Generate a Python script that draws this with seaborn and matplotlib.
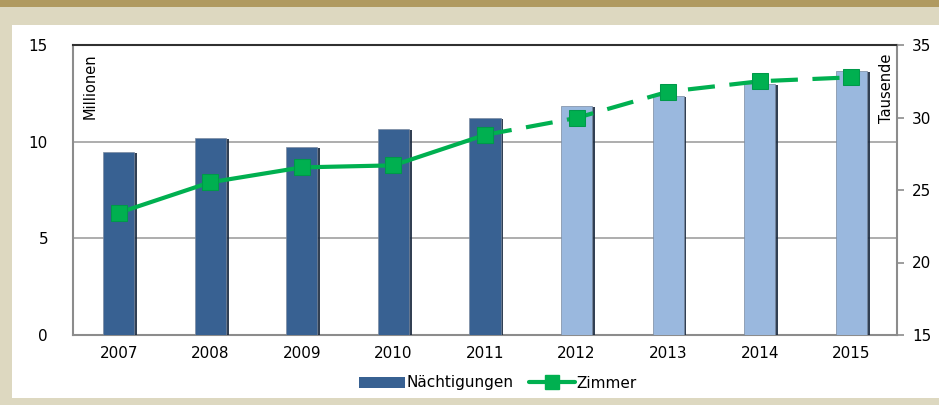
import numpy as np
import matplotlib
matplotlib.use("Agg")
import matplotlib.pyplot as plt
import matplotlib.patheffects as pe
from matplotlib.patches import Rectangle, Patch
from matplotlib.lines import Line2D
import seaborn as sns

# data
years = ['2007', '2008', '2009', '2010', '2011', '2012', '2013', '2014', '2015']
naechtigungen = [9.47, 10.19, 9.73, 10.66, 11.23, 11.85, 12.36, 12.98, 13.66]  # Millionen
zimmer = [23.43, 25.53, 26.56, 26.7, 28.8, 29.97, 31.78, 32.5, 32.77]  # Tausende
n_actual = 5  # 2007-2011 actual, rest forecast

dark_blue = '#386192'
light_blue = '#9AB8DE'
green = '#00B050'
bar_colors = [dark_blue] * n_actual + [light_blue] * (len(years) - n_actual)

sns.set_theme(style='white')
plt.rcParams['font.family'] = ['DejaVu Sans']
plt.rcParams['text.color'] = 'black'

fig = plt.figure(figsize=(9.39, 4.05), dpi=100, facecolor='#DDD8C0')
# background frame
fig.patches.append(Rectangle((0, 1 - 7 / 405), 1, 7 / 405, transform=fig.transFigure,
                             facecolor='#B09A60', edgecolor='none', zorder=-2))
fig.patches.append(Rectangle((12 / 939, 7 / 405), 1, (398 - 25) / 405, transform=fig.transFigure,
                             facecolor='white', edgecolor='none', zorder=-1))

ax = fig.add_axes([73 / 939, (405 - 335) / 405, (897 - 73) / 939, (335 - 45) / 405])
ax.set_facecolor('white')

df_x = list(range(len(years)))
sns.barplot(x=years, y=naechtigungen, hue=years, palette=bar_colors, legend=False,
            width=0.34, ax=ax, saturation=1, zorder=3)
for p in ax.patches:
    p.set_path_effects([pe.SimplePatchShadow(offset=(2, -1), shadow_rgbFace='#1c2b40', alpha=0.9),
                        pe.Normal()])
    p.set_edgecolor('#7a8aa0')
    p.set_linewidth(0.5)

ax.set_ylim(0, 15)
ax.set_xlim(-0.5, len(years) - 0.5)
ax.set_yticks([0, 5, 10, 15])
ax.yaxis.grid(True, color='#a0a0a0', linewidth=1.2)
ax.set_axisbelow(True)
ax.tick_params(axis='both', labelsize=11, colors='black', length=0, pad=8)
ax.tick_params(axis='y', pad=18)
for s in ['left', 'bottom', 'right']:
    ax.spines[s].set_color('#8c8c8c')
    ax.spines[s].set_linewidth(1.5)
ax.spines['top'].set_color('#303030')
ax.spines['top'].set_linewidth(1.5)
ax.set_xlabel('')
ax.set_ylabel('')
ax.text(0.012, 0.97, 'Millionen', rotation=90, transform=ax.transAxes,
        ha='left', va='top', fontsize=10.5, color='black')

ax2 = ax.twinx()
ax2.set_ylim(15, 35)
ax2.set_yticks([15, 20, 25, 30, 35])
ax2.tick_params(axis='y', labelsize=11, labelcolor='black', color='#8c8c8c',
                direction='out', length=5, width=1.2, pad=6)
for s in ax2.spines.values():
    s.set_visible(False)
ax2.grid(False)

sns.lineplot(x=df_x[:n_actual], y=zimmer[:n_actual], color=green, linewidth=3,
             marker='s', markersize=12, markeredgecolor='#00994a', ax=ax2, zorder=5)
sns.lineplot(x=df_x[n_actual - 1:], y=zimmer[n_actual - 1:], color=green, linewidth=3,
             marker='s', markersize=12, markeredgecolor='#00994a', ax=ax2, zorder=5)
ax2.lines[1].set_linestyle((0, (6.5, 3.5)))
ax2.set_ylabel('')
ax2.text(0.996, 0.97, 'Tausende', rotation=90, transform=ax.transAxes,
         ha='right', va='top', fontsize=10.5, color='black')

handles = [Patch(facecolor=dark_blue, edgecolor='none'),
           Line2D([], [], color=green, linewidth=3, marker='s', markersize=10)]
fig.legend(handles, ['Nächtigungen', 'Zimmer'], loc='center', bbox_to_anchor=(0.53, 1 - 383 / 405),
           ncol=2, frameon=False, fontsize=11, handlelength=3, handletextpad=0.1,
           columnspacing=1.0)

fig.savefig('out.png', dpi=100, facecolor=fig.get_facecolor())
